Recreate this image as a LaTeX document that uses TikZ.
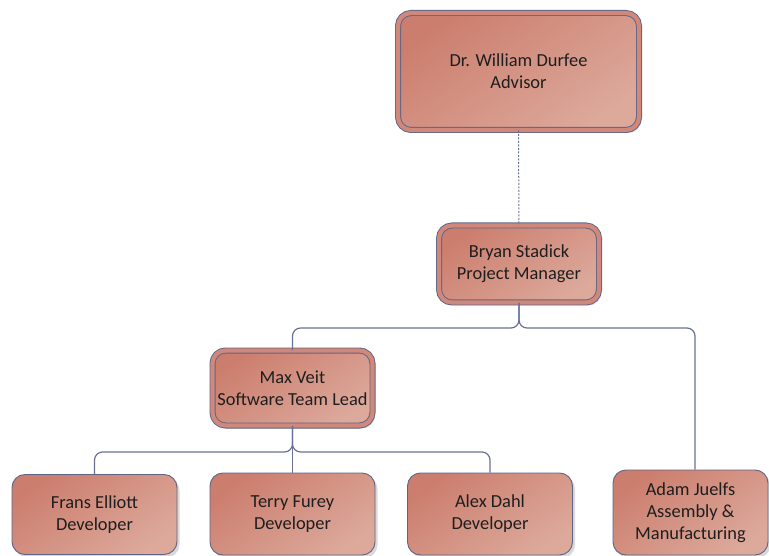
\documentclass[tikz,border=0pt]{standalone}
\usepackage{fontspec}
\setmainfont{Carlito}
\usetikzlibrary{shadows}

\definecolor{boxdark}{HTML}{CC7E6E}
\definecolor{boxlight}{HTML}{DCA99B}
\definecolor{edge}{HTML}{5E6486}
\definecolor{link}{HTML}{6A7194}
\definecolor{ink}{HTML}{1E1E1E}

\begin{document}
\begin{tikzpicture}[x=1pt,y=-1pt,
  card/.style={draw=edge, line width=0.9pt, rounded corners=13pt,
    top color=boxdark, bottom color=boxlight, shading angle=35,
    text=ink, align=center, inner sep=0pt,
    font=\fontsize{18.4}{22}\selectfont,
    drop shadow={shadow xshift=2.5pt, shadow yshift=-3pt, opacity=0.25, fill=black!60}},
  framed/.style={card, double=boxdark!92!white, double distance=4.2pt},
  conn/.style={draw=link, line width=1.2pt, rounded corners=8pt},
  dotlink/.style={draw=link, line width=1pt, dash pattern=on 2pt off 1.5pt},
]
\useasboundingbox (0,0) rectangle (769,556);

% people
\node[framed, minimum width=241pt, minimum height=117pt] (adv)   at (518.5,71.5) {Dr. William Durfee\\Advisor};
\node[framed, minimum width=160pt, minimum height=77pt]  (bryan) at (519,264)    {Bryan Stadick\\Project Manager};
\node[framed, minimum width=160pt, minimum height=75pt]  (max)   at (292.5,388)  {Max Veit\\Software Team Lead};

\node[card, minimum width=165pt, minimum height=80pt] (frans) at (94.5,514.5) {Frans Elliott\\Developer};
\node[card, minimum width=165pt, minimum height=82pt] (terry) at (292.5,514)  {Terry Furey\\Developer};
\node[card, minimum width=165pt, minimum height=82pt] (alex)  at (490,514)    {Alex Dahl\\Developer};
\node[card, minimum width=155pt, minimum height=85pt] (adam)  at (690.5,512.5) {Adam Juelfs\\Assembly \&\\Manufacturing};

% bus points
\coordinate (busA) at (519,328);
\coordinate (busB) at (292.5,452);

% connectors
\draw[dotlink] (adv.south) -- (bryan.north);
\draw[conn] (bryan.south) -- (busA) -| (max.north);
\draw[conn] (bryan.south) -- (busA) -| ([xshift=4.5pt]adam.north);
\draw[conn] (max.south) -- (busB) -| (frans.north);
\draw[conn] (max.south) -- (terry.north);
\draw[conn] (max.south) -- (busB) -| (alex.north);
\end{tikzpicture}
\end{document}
